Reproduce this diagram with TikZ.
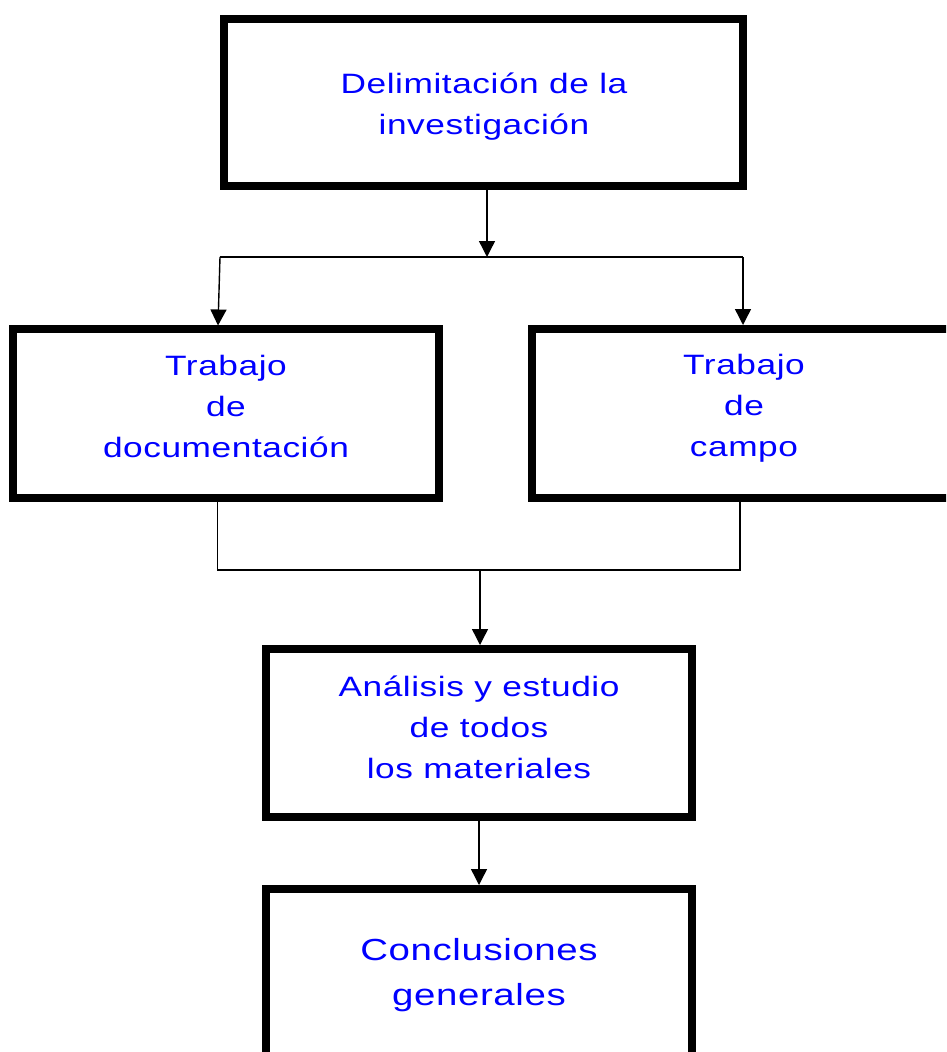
\documentclass[tikz,border=0pt]{standalone}
\usepackage{fontspec}
\setmainfont{Liberation Sans}[FakeStretch=1.26,LetterSpace=2]
\usetikzlibrary{arrows.meta}
\begin{document}
\begin{tikzpicture}[x=1pt,y=-1pt,
  box/.style={draw=black,line width=8pt,minimum width=426pt,minimum height=168pt,inner sep=0pt},
  lbl/.style={text=blue,align=center,inner sep=0pt,font=\fontsize{28}{41}\selectfont},
  conn/.style={draw=black,line width=1.4pt},
  arr/.style={conn,-{Triangle[length=16pt,width=16pt]}}]
\useasboundingbox (0,0) rectangle (946,1052);
\clip (0,0) rectangle (946,1052);
% boxes
\node[box,minimum width=519pt,minimum height=167pt] (top) at (483.5,102.5) {};
\node[box,minimum height=169pt] (doc) at (226,413.5) {};
\node[box,minimum height=169pt] (campo) at (745,413.5) {};
\node[box] (anal) at (479,733) {};
\node[box] (concl) at (479,973) {};
% labels
\node[lbl] (ttop) at (484,107) {Delimitación de la\\investigación};
\node[lbl] (tdoc) at (226,406) {Trabajo\\de\\documentación};
\node[lbl] (tcampo) at (744,408) {Trabajo\\de\\campo};
\node[lbl] (tanal) at (479,727) {Análisis y estudio\\de todos\\los materiales};
\node[lbl,font=\fontsize{30.5}{45}\selectfont] (tconcl) at (479,975) {Conclusiones\\generales};
% junctions
\coordinate (j1) at (487,257);
\coordinate (j1l) at (220,257);
\coordinate (j1r) at (743,257);
\coordinate (j2) at (480,570);
\coordinate (j2l) at (217.5,570);
\coordinate (j2r) at (740,570);
% connectors
\draw[arr] (j1 |- top.south) -- (j1);
\draw[conn] (j1l) -- (j1r);
\draw[arr] (j1l) -- (218,325.5);
\draw[arr] (j1r) -- (j1r |- campo.north);
\draw[conn] (j2l |- doc.south) -- (j2l) -- (j2r) -- (j2r |- campo.south);
\draw[arr] (j2) -- (j2 |- anal.north);
\draw[arr] (anal.south) -- (concl.north);
\end{tikzpicture}
\end{document}
